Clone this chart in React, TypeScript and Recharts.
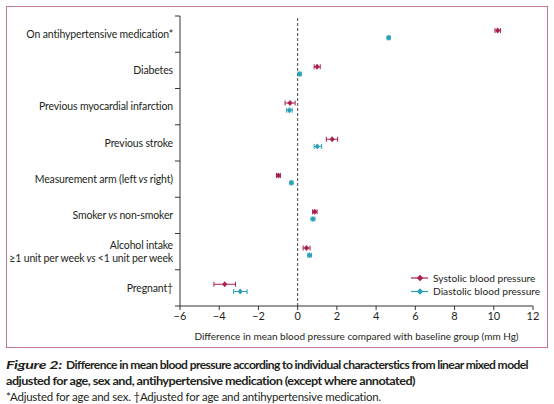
import React from 'react';
import { ScatterChart, Scatter, XAxis, YAxis, ErrorBar, ReferenceLine, Legend } from 'recharts';

const categories = [
  'On antihypertensive medication*',
  'Diabetes',
  'Previous myocardial infarction',
  'Previous stroke',
  'Measurement arm (left vs right)',
  'Smoker vs non-smoker',
  'Alcohol intake\n≥1 unit per week vs <1 unit per week',
  'Pregnant†',
];

const systolic = [10.2, 0.99, -0.39, 1.76, -0.98, 0.87, 0.45, -3.72];
const systolicLow = [10.06, 0.84, -0.64, 1.46, -1.08, 0.76, 0.28, -4.27];
const systolicHigh = [10.34, 1.15, -0.13, 2.04, -0.88, 0.99, 0.63, -3.17];

const diastolic = [4.64, 0.1, -0.42, 1.0, -0.32, 0.78, 0.6, -2.93];
const diastolicLow = [4.56, 0.02, -0.56, 0.84, -0.4, 0.68, 0.52, -3.27];
const diastolicHigh = [4.72, 0.18, -0.28, 1.22, -0.24, 0.88, 0.7, -2.58];

const xTicks = [-6, -4, -2, 0, 2, 4, 6, 8, 10, 12];

const SYS_COLOR = '#a8224c';
const DIA_COLOR = '#2a9fb8';
const TEXT = '#231f20';
const FONT = 'Lato, "Open Sans", sans-serif';

const rowOffset = 0.1;

const systolicData = categories.map((c, i) => ({
  x: systolic[i],
  y: i + 0.5 - rowOffset,
  err: [systolic[i] - systolicLow[i], systolicHigh[i] - systolic[i]],
}));
const diastolicData = categories.map((c, i) => ({
  x: diastolic[i],
  y: i + 0.5 + rowOffset,
  err: [diastolic[i] - diastolicLow[i], diastolicHigh[i] - diastolic[i]],
}));

const yTicks: number[] = [];
for (let i = 0; i <= categories.length; i++) {
  yTicks.push(i);
  if (i < categories.length) yTicks.push(i + 0.5);
}

const fmtMinus = (v: number) => (v < 0 ? '\u2212' + Math.abs(v) : String(v));

function renderLine(line: string) {
  const parts = line.split(' vs ');
  const out: React.ReactNode[] = [];
  parts.forEach((p, k) => {
    if (k > 0) out.push(<tspan key={'v' + k} fontStyle="italic">{' vs '}</tspan>);
    out.push(<tspan key={'p' + k}>{p}</tspan>);
  });
  return out;
}

const YTick = (props: any) => {
  const { x, y, payload } = props;
  const v = payload.value;
  if (Number.isInteger(v)) {
    return <line x1={x + 2} x2={x + 7} y1={y} y2={y} stroke="#333" strokeWidth={1} />;
  }
  const label = categories[Math.floor(v)];
  const lines = label.split('\n');
  const lh = 13;
  const start = -((lines.length - 1) * lh) / 2;
  return (
    <text x={x} y={y} textAnchor="end" fill={TEXT} fontSize={10.5} letterSpacing={-0.15} fontFamily={FONT}>
      {lines.map((ln, k) => (
        <tspan key={k} x={x} dy={k === 0 ? start + 3.8 : lh}>
          {renderLine(ln)}
        </tspan>
      ))}
    </text>
  );
};

const Diamond = (props: any) => {
  const { cx, cy, fill } = props;
  if (cx == null || cy == null) return null;
  return <path d={`M${cx} ${cy - 3} L${cx + 2.6} ${cy} L${cx} ${cy + 3} L${cx - 2.6} ${cy} Z`} fill={fill} />;
};

const LegendContent = () => {
  const items = [
    { name: 'Systolic blood pressure', color: SYS_COLOR },
    { name: 'Diastolic blood pressure', color: DIA_COLOR },
  ];
  return (
    <svg width={140} height={30} style={{ display: 'block' }}>
      {items.map((it, k) => {
        const cy = 6 + k * 13.5;
        return (
          <g key={it.name}>
            <line x1={0} x2={17} y1={cy} y2={cy} stroke={it.color} strokeWidth={1.2} />
            <path d={`M9 ${cy - 3.3} L12.2 ${cy} L9 ${cy + 3.3} L5.8 ${cy} Z`} fill={it.color} />
            <text x={22} y={cy + 3.8} fontSize={10.2} fill={TEXT} fontFamily={FONT}>{it.name}</text>
          </g>
        );
      })}
    </svg>
  );
};

export default function App() {
  return (
    <div style={{ position: 'absolute', left: 0, top: 0, width: 554, height: 404, background: '#fff', fontFamily: FONT }}>
      <div
        style={{
          position: 'absolute',
          left: 6,
          top: 6,
          width: 542,
          height: 342,
          border: '1.5px solid #c27a93',
          boxSizing: 'border-box',
        }}
      />
      <div style={{ position: 'absolute', left: 0, top: 0 }}>
        <ScatterChart width={554} height={350} margin={{ top: 16, right: 21, bottom: 10, left: 0 }}>
          <XAxis
            type="number"
            dataKey="x"
            domain={[-6, 12]}
            ticks={xTicks}
            interval={0}
            tickFormatter={fmtMinus}
            tickSize={4}
            stroke="#333"
            tick={{ fill: TEXT, fontSize: 11, fontFamily: FONT }}
            height={34}
            label={{ value: 'Difference in mean blood pressure compared with baseline group (mm Hg)', position: 'insideBottom', offset: 0, fill: TEXT, fontSize: 10, fontFamily: FONT }}
          />
          <YAxis
            type="number"
            dataKey="y"
            domain={[0, categories.length]}
            reversed
            ticks={yTicks}
            interval={0}
            width={180}
            tickSize={5}
            tickMargin={2}
            tickLine={false}
            stroke="#333"
            tick={<YTick />}
          />
          <ReferenceLine x={0} stroke="#444" strokeDasharray="3 2" strokeWidth={1} />
          <Scatter name="Systolic blood pressure" data={systolicData} fill={SYS_COLOR} shape={<Diamond />} isAnimationActive={false}>
            <ErrorBar dataKey="err" direction="x" width={2.5} stroke={SYS_COLOR} strokeWidth={1} />
          </Scatter>
          <Scatter name="Diastolic blood pressure" data={diastolicData} fill={DIA_COLOR} shape={<Diamond />} isAnimationActive={false}>
            <ErrorBar dataKey="err" direction="x" width={2.5} stroke={DIA_COLOR} strokeWidth={1} />
          </Scatter>
          <Legend
            layout="vertical"
            align="center"
            verticalAlign="middle"
            wrapperStyle={{ left: 411, top: 272, width: 140, height: 30 }}
            content={<LegendContent />}
          />
        </ScatterChart>
      </div>
      <svg style={{ position: 'absolute', left: 0, top: 350 }} width={554} height={54}>
        <text x={6} y={18.5} fontSize={12} fontWeight="bold" fontStyle="italic" fill={TEXT} fontFamily={FONT} letterSpacing={-0.3} textLength={56} lengthAdjust="spacingAndGlyphs">
          Figure 2:
        </text>
        <text x={66} y={18.5} fontSize={12} fontWeight="bold" fill={TEXT} fontFamily={FONT} letterSpacing={-0.6} textLength={462} lengthAdjust="spacingAndGlyphs">
          Difference in mean blood pressure according to individual characterstics from linear mixed model
        </text>
        <text x={6} y={35} fontSize={12} fontWeight="bold" fill={TEXT} fontFamily={FONT} letterSpacing={-0.5} textLength={409} lengthAdjust="spacingAndGlyphs">
          adjusted for age, sex and, antihypertensive medication (except where annotated)
        </text>
        <text x={6} y={50.5} fontSize={11} fill={TEXT} fontFamily={FONT} letterSpacing={-0.2} textLength={375} lengthAdjust="spacingAndGlyphs">
          *Adjusted for age and sex. †Adjusted for age and antihypertensive medication.
        </text>
      </svg>
    </div>
  );
}
